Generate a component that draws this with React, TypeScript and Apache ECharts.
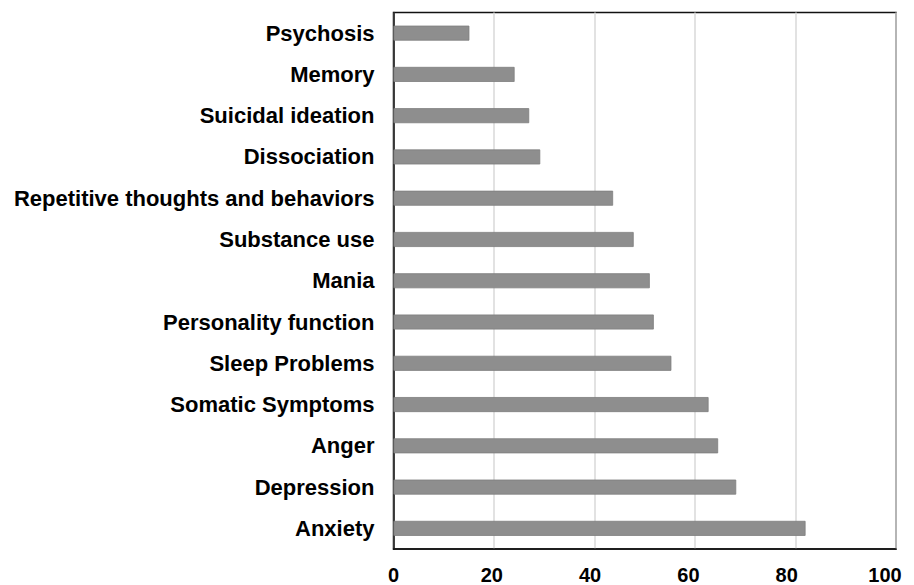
import React, { useEffect, useRef } from "react";
import * as echarts from "echarts";

const categories = [
  "Psychosis",
  "Memory",
  "Suicidal ideation",
  "Dissociation",
  "Repetitive thoughts and behaviors",
  "Substance use",
  "Mania",
  "Personality function",
  "Sleep Problems",
  "Somatic Symptoms",
  "Anger",
  "Depression",
  "Anxiety",
];
const values = [15.1, 24.1, 27.0, 29.2, 43.7, 47.8, 51.0, 51.8, 55.3, 62.7, 64.6, 68.2, 82.0];
const xTicks = [0, 20, 40, 60, 80, 100];

export default function App() {
  const ref = useRef<HTMLDivElement>(null);
  useEffect(() => {
    if (!ref.current) return;
    const chart = echarts.init(ref.current, null, { renderer: "svg" });
    const font = "'Liberation Sans', Arial, sans-serif";
    const xMin = xTicks[0];
    const xMax = xTicks[xTicks.length - 1];
    const step = xTicks[1] - xTicks[0];
    chart.setOption({
      animation: false,
      backgroundColor: "#fff",
      grid: [
        {
          left: 393.5,
          top: 12.5,
          right: 18,
          bottom: 36,
          show: true,
          borderColor: "#111",
          borderWidth: 1.5,
          containLabel: false,
        },
        {
          left: 393.5,
          top: 12.5,
          right: 29,
          bottom: 36,
          show: false,
          containLabel: false,
        },
      ],
      xAxis: [
        {
          type: "value",
          gridIndex: 0,
          min: xMin,
          max: xMax,
          interval: step,
          axisLine: { show: true, lineStyle: { color: "#111", width: 1.5 } },
          axisTick: { show: false },
          splitLine: { show: true, lineStyle: { color: "#d9d9d9", width: 1.5 } },
          axisLabel: { show: false },
        },
        {
          type: "value",
          gridIndex: 1,
          min: xMin,
          max: xMax,
          interval: step,
          axisLine: { show: false },
          axisTick: { show: false },
          splitLine: { show: false },
          axisLabel: {
            color: "#000",
            fontFamily: font,
            fontWeight: "bold",
            fontSize: 20,
            margin: 16,
          },
        },
      ],
      yAxis: [
        {
          type: "category",
          gridIndex: 0,
          data: categories,
          inverse: true,
          axisLine: { show: true, lineStyle: { color: "#111", width: 1.5 } },
          axisTick: { show: false },
          axisLabel: {
            color: "#000",
            fontFamily: font,
            fontWeight: "bold",
            fontSize: 22,
            margin: 19,
          },
        },
        {
          type: "category",
          gridIndex: 1,
          data: categories,
          inverse: true,
          show: false,
        },
      ],
      series: [
        {
          type: "bar",
          xAxisIndex: 0,
          yAxisIndex: 0,
          data: values,
          barWidth: 15,
          itemStyle: { color: "#8e8e8e", borderColor: "#7d7d7d", borderWidth: 0.8 },
        },
      ],
    });
    return () => chart.dispose();
  }, []);
  return (
    <div
      ref={ref}
      style={{ position: "fixed", left: 0, top: 0, width: 914, height: 585 }}
    />
  );
}
